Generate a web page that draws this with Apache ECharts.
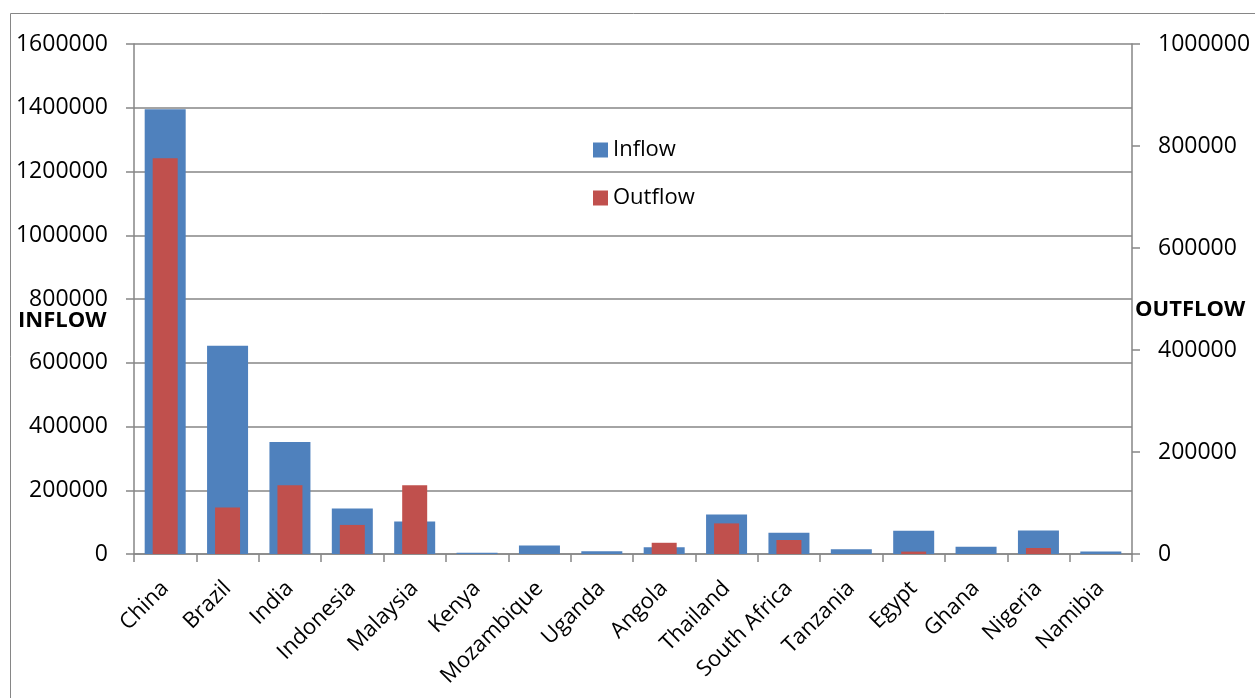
<!DOCTYPE html>
<html>
<head>
<meta charset="utf-8">
<script src="https://cdn.jsdelivr.net/npm/echarts@6/dist/echarts.min.js"></script>
<style>
  html, body { margin: 0; padding: 0; background: #fff; }
  #chart { width: 1255px; height: 698px; }
</style>
</head>
<body>
<div id="chart"></div>
<script>
var countries = ['China', 'Brazil', 'India', 'Indonesia', 'Malaysia', 'Kenya', 'Mozambique', 'Uganda',
    'Angola', 'Thailand', 'South Africa', 'Tanzania', 'Egypt', 'Ghana', 'Nigeria', 'Namibia'];
var inflow = [1395000, 653000, 351000, 143000, 102000, 4000, 27000, 8500,
    21000, 124000, 67000, 15000, 73000, 23000, 74000, 7500];
var outflow = [776000, 91000, 135000, 57000, 135000, 0, 0, 0,
    22000, 60000, 27500, 0, 4700, 0, 11800, 0];
var inflowTicks = [0, 1600000, 200000];   // min, max, step
var outflowTicks = [0, 1000000, 200000];

var font = 'Open Sans';
var gray = '#868686';

var chart = echarts.init(document.getElementById('chart'));
chart.setOption({
    animation: false,
    backgroundColor: '#fff',
    textStyle: { fontFamily: font },
    grid: { left: 134, right: 123, top: 44, bottom: 144, containLabel: false, outerBoundsMode: 'none' },
    legend: {
        orient: 'vertical',
        left: 588,
        top: 132,
        itemWidth: 15,
        itemHeight: 15,
        itemGap: 22,
        icon: 'rect',
        textStyle: { fontFamily: font, fontSize: 22, color: '#000', lineHeight: 26 },
        data: ['Inflow', 'Outflow']
    },
    graphic: [
        {
            // outer chart frame
            type: 'rect',
            shape: { x: 10.5, y: 13.5, width: 1300, height: 800 },
            style: { fill: 'none', stroke: gray, lineWidth: 1 },
            silent: true
        },
        {
            type: 'text', left: 18, top: 310,
            style: { text: 'INFLOW', font: 'bold 22px "Open Sans"', fill: '#000' }
        },
        {
            type: 'text', left: 1135, top: 299,
            style: { text: 'OUTFLOW', font: 'bold 22px "Open Sans"', fill: '#000' }
        }
    ],
    xAxis: [{
        type: 'category',
        data: countries,
        axisLine: { show: true, lineStyle: { color: gray, width: 1.5 } },
        axisTick: { show: true, alignWithLabel: false, length: 8, lineStyle: { color: gray, width: 1.5 } },
        axisLabel: { interval: 0, rotate: 45, margin: 31, fontFamily: font, fontSize: 22, color: '#000' },
        splitLine: { show: false }
    }, {
        // hidden axis so the outflow bars sit centred on top of the inflow bars
        type: 'category',
        data: countries,
        show: false
    }],
    yAxis: [{
        type: 'value',
        min: inflowTicks[0],
        max: inflowTicks[1],
        interval: inflowTicks[2],
        position: 'left',
        axisLine: { show: true, lineStyle: { color: gray, width: 1.5 } },
        axisTick: { show: true, length: 8, lineStyle: { color: gray, width: 1.5 } },
        axisLabel: { margin: 26, fontFamily: font, fontSize: 23, color: '#000', formatter: function (v) { return String(v); } },
        splitLine: { show: true, lineStyle: { color: gray, width: 1.5 } }
    }, {
        type: 'value',
        min: outflowTicks[0],
        max: outflowTicks[1],
        interval: outflowTicks[2],
        position: 'right',
        axisLine: { show: true, lineStyle: { color: gray, width: 1.5 } },
        axisTick: { show: true, length: 8, lineStyle: { color: gray, width: 1.5 } },
        axisLabel: { margin: 26, fontFamily: font, fontSize: 23, color: '#000', formatter: function (v) { return String(v); } },
        splitLine: { show: false }
    }],
    series: [{
        name: 'Inflow',
        type: 'bar',
        xAxisIndex: 0,
        yAxisIndex: 0,
        barWidth: 41,
        itemStyle: { color: '#4F81BD' },
        data: inflow
    }, {
        name: 'Outflow',
        type: 'bar',
        xAxisIndex: 1,
        yAxisIndex: 1,
        barWidth: 25,
        z: 3,
        itemStyle: { color: '#C0504D' },
        data: outflow
    }]
});
</script>
</body>
</html>
